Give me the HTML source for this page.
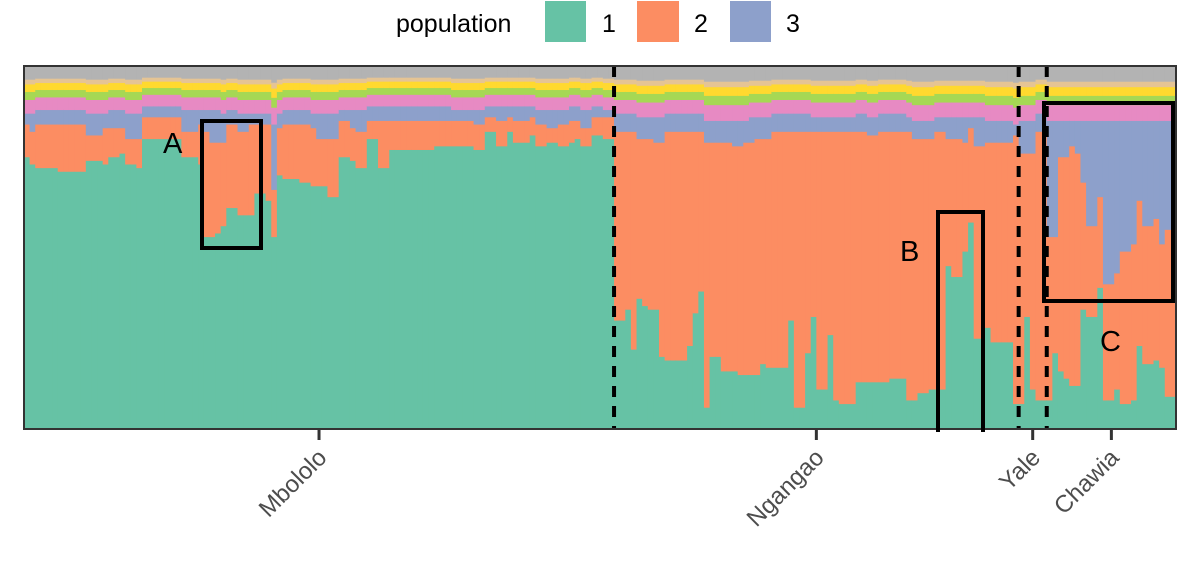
<!DOCTYPE html>
<html><head><meta charset="utf-8"><style>
html,body{margin:0;padding:0;background:#fff;}
svg{display:block;font-family:"Liberation Sans",Arial,sans-serif;}
</style></head><body>
<svg id="chart" width="1200" height="576" viewBox="0 0 1200 576" xmlns="http://www.w3.org/2000/svg">
  <g id="legend">
    <text x="396" y="32" font-size="25" fill="#000">population</text>
    <rect x="545" y="1" width="41" height="41" fill="#66c2a5"/>
    <text x="602" y="32" font-size="25">1</text>
    <rect x="637" y="1" width="42" height="41" fill="#fc8d62"/>
    <text x="694" y="32" font-size="25">2</text>
    <rect x="730" y="1" width="41" height="41" fill="#8da0cb"/>
    <text x="786" y="32" font-size="25">3</text>
  </g>
  <g id="bars"></g>
  <g id="overlay"></g>
</svg>
<script>
const q1 = [75,73,72,72,72,72,71,71,71,71,71,74,74,74,73,75,75,76,73,73,72,80,80,80,80,80,80,80,75,75,75,73,53,53,54,56,61,61,59,59,59,65,65,63,53,70,69,69,69,68,68,67,67,67,64,64,75,75,74,72,72,80,80,72,72,77,77,77,77,77,77,77,77,78,78,78,78,78,78,78,77,77,82,82,78,78,82,79,79,79,81,78,78,79,79,78,78,79,80,78,78,81,81,80,80,
30,30,33,22,36,34,33,33,20,19,19,19,19,23,32,38,6,20,20,16,16,16,15,15,15,15,18,17,17,17,17,30,6,6,21,31,11,11,26,8,7,7,7,13,13,13,13,13,13,14,14,14,8,8,10,10,11,11,11,45,42,42,49,57,25,25,28,24,24,24,24,7,
7,31,11,8,8,
8,21,16,14,12,12,33,31,31,39,8,8,11,7,7,8,23,18,18,19,17,9,9];
const q2 = [9,9,12,12,12,12,13,13,13,13,13,7,7,7,10,8,8,7,7,7,8,6,6,6,6,6,6,6,7,7,7,11,29,26,25,23,23,23,23,23,25,19,19,21,13,13,15,15,15,16,16,16,13,13,16,16,10,10,9,10,10,5,5,13,13,8,8,8,8,8,8,8,8,7,7,7,7,7,7,7,7,7,4,4,7,7,4,6,6,6,5,6,6,4,4,6,6,6,5,5,5,5,5,6,6,
52,52,49,60,44,46,47,46,59,63,63,63,63,59,50,44,73,59,59,63,63,62,63,64,64,65,62,63,65,65,65,52,76,76,61,51,71,71,56,74,75,75,75,69,69,68,68,69,69,68,68,68,74,72,70,70,69,71,71,35,38,38,30,26,53,53,51,55,55,55,55,74,
69,45,65,74,74,
45,32,59,61,66,64,35,25,25,25,32,32,32,42,42,43,40,38,38,39,34,46,46];
const q3 = [3,5,4,4,4,4,4,4,4,4,4,6,6,6,4,5,5,5,7,7,7,3,3,3,3,3,3,3,6,6,6,4,6,9,9,8,4,4,5,5,3,3,3,3,18,4,4,4,4,4,4,4,7,7,7,7,3,3,5,6,6,4,4,4,4,4,4,4,4,4,4,4,4,4,4,4,3,3,3,3,4,4,3,3,4,4,3,4,4,4,3,4,4,5,5,4,4,4,4,5,5,3,3,2,2,
5,5,5,5,6,6,6,7,7,5,5,5,5,5,5,5,6,6,6,6,6,7,7,6,7,6,6,6,5,5,5,5,5,5,5,4,4,4,4,4,4,4,4,5,5,5,5,5,5,5,5,5,4,5,5,5,5,4,4,6,6,6,7,3,8,8,6,6,6,6,6,3,
9,9,9,5,5,
32,32,10,10,7,9,17,29,29,21,45,45,42,36,36,34,22,29,29,27,34,30,30];
const groups = ["Mbololo","Ngangao","Yale","Chawia"];
const groupSizes = [105,72,5,23];
const restShares = [0.29,0.17,0.16,0.1,0.28];

const NS="http://www.w3.org/2000/svg";
const X0=24,X1=1176,Y0=66,Y1=429;
const N=q1.length;
const bw=(X1-X0)/N;
const xAt=i=>X0+i*bw;
const yAt=p=>Y1-(p/100)*(Y1-Y0);
const colors=["#66c2a5","#fc8d62","#8da0cb","#e78ac3","#a6d854","#ffd92f","#e5c494","#b3b3b3"];
const layerNames=["pop1","pop2","pop3","pop4","pop5","pop6","pop7","pop8"];
const gb=document.getElementById('bars');
for(let i=0;i<N;i++){
  const rest=100-q1[i]-q2[i]-q3[i];
  const vals=[q1[i],q2[i],q3[i]].concat(restShares.map(s=>s*rest));
  let cum=0;
  vals.forEach((v,k)=>{
    const r=document.createElementNS(NS,'rect');
    const yTop=yAt(cum+v), yBot=yAt(cum);
    r.setAttribute('x',xAt(i).toFixed(2));
    r.setAttribute('width',(bw+0.6).toFixed(2));
    r.setAttribute('y',yTop.toFixed(2));
    r.setAttribute('height',Math.max(0,yBot-yTop+0.5).toFixed(2));
    r.setAttribute('fill',colors[k]);
    
    
    gb.appendChild(r);
    cum+=v;
  });
}
const ov=document.getElementById('overlay');
function add(tag,attrs,name,txt){
  const e=document.createElementNS(NS,tag);
  for(const k in attrs)e.setAttribute(k,attrs[k]);
  
  
  if(txt)e.textContent=txt;
  ov.appendChild(e);return e;
}
let start=0;
groupSizes.forEach((n,g)=>{
  const mid=xAt(start+n/2);
  if(start>0){
    add('line',{x1:xAt(start),x2:xAt(start),y1:Y0,y2:Y1,stroke:'#000','stroke-width':4,'stroke-dasharray':'11,9'},'group-divider');
  }
  add('line',{x1:mid,x2:mid,y1:Y1,y2:Y1+11,stroke:'#333','stroke-width':3},'x-tick');
  add('text',{x:mid+9,y:Y1+30,'font-size':24,fill:'#4d4d4d','text-anchor':'end',transform:`rotate(-45 ${mid+9} ${Y1+30})`},'x-tick-label',groups[g]);
  start+=n;
});
add('rect',{x:X0,y:Y0,width:X1-X0,height:Y1-Y0,fill:'none',stroke:'#333','stroke-width':2},'panel-border');
add('rect',{x:202,y:121,width:59,height:127,fill:'none',stroke:'#000','stroke-width':4},'box-a');
add('text',{x:163,y:153,'font-size':29,fill:'#000'},'label-a','A');
add('path',{d:'M938 432 V212 H983 V432',fill:'none',stroke:'#000','stroke-width':4},'box-b');
add('text',{x:900,y:261,'font-size':29,fill:'#000'},'label-b','B');
add('rect',{x:1044,y:103,width:129,height:198,fill:'none',stroke:'#000','stroke-width':4},'box-c');
add('text',{x:1100,y:351,'font-size':29,fill:'#000'},'label-c','C');
</script>
</body></html>
